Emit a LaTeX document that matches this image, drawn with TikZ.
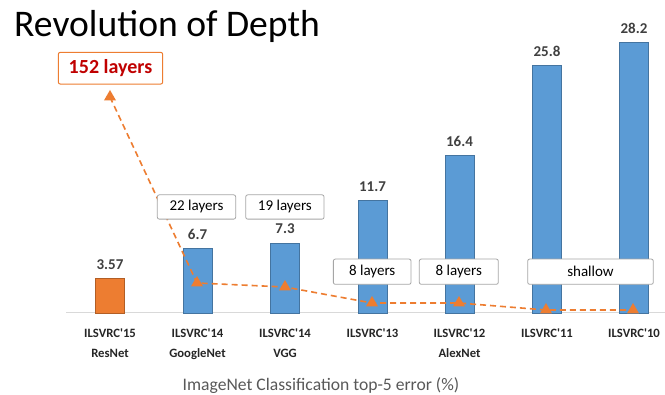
\documentclass[tikz,border=0pt]{standalone}
\usepackage{fontspec}
\setmainfont{Carlito}
\usetikzlibrary{shapes.geometric}
\definecolor{barblue}{HTML}{5B9BD5}
\definecolor{barorange}{HTML}{ED7D31}
\definecolor{valgray}{HTML}{404040}
\definecolor{boxgray}{HTML}{A6A6A6}
\definecolor{axisgray}{HTML}{D9D9D9}
\definecolor{capgray}{HTML}{595959}
\definecolor{darkred}{HTML}{C00000}
\newcommand{\apos}{\textquotesingle}
\begin{document}
\begin{tikzpicture}[x=1pt,y=-1pt,
  bluebar/.style={fill=barblue, draw=barblue!75!black, line width=0.5pt},
  orangebar/.style={fill=barorange, draw=barorange!75!black, line width=0.5pt},
  val/.style={font=\bfseries\fontsize{15}{18}\selectfont, text=valgray, inner sep=0pt, anchor=base},
  cat/.style={font=\bfseries\fontsize{12.7}{20}\selectfont, text=black!85, align=center, inner sep=0pt, anchor=north},
  lbox/.style={draw=boxgray, fill=white, rounded corners=2pt, font=\fontsize{15}{18}\selectfont, inner sep=0pt, line width=0.8pt},
  tmark/.style={regular polygon, regular polygon sides=3, fill=barorange, minimum size=14pt, inner sep=0pt},
  dline/.style={draw=barorange, line width=1.6pt, dash pattern=on 6pt off 4pt}
]
\useasboundingbox (0,0) rectangle (665,395);
\fill[white] (0,0) rectangle (665,395);

% title
\node[anchor=base west, inner sep=0pt, font=\fontsize{37.6}{40}\selectfont] (title) at (14,37) {Revolution of Depth};

% axis
\draw[axisgray, line width=1pt] (66,313) -- (665,313);

% bars
\def\base{313}
\def\sc{9.6}
\draw[orangebar] (110-14.3,\base) rectangle (110+14.3,{\base-3.57*\sc});
\foreach \cx/\v in {197.5/6.7, 285/7.3, 372.5/11.7, 459.5/16.4, 547/25.8, 634/28.2}{
  \draw[bluebar] (\cx-14.3,\base) rectangle (\cx+14.3,{\base-\v*\sc});
}

% value labels
\node[val] (v1) at (110,{\base-3.57*\sc-9}) {3.57};
\node[val] (v2) at (197.5,{\base-6.7*\sc-9}) {6.7};
\node[val] (v3) at (285,{\base-7.3*\sc-9}) {7.3};
\node[val] (v4) at (372.5,{\base-11.7*\sc-9}) {11.7};
\node[val] (v5) at (459.5,{\base-16.4*\sc-9}) {16.4};
\node[val] (v6) at (547,{\base-25.8*\sc-9}) {25.8};
\node[val] (v7) at (634,{\base-28.2*\sc-9}) {28.2};

% category labels
\node[cat] (c1) at (110,329) {ILSVRC\apos15\\ResNet};
\node[cat] (c2) at (197.5,329) {ILSVRC\apos14\\GoogleNet};
\node[cat] (c3) at (285,329) {ILSVRC\apos14\\VGG};
\node[cat] (c4) at (372.5,329) {ILSVRC\apos13};
\node[cat] (c5) at (459.5,329) {ILSVRC\apos12\\AlexNet};
\node[cat] (c6) at (547,329) {ILSVRC\apos11};
\node[cat] (c7) at (634,329) {ILSVRC\apos10};

% caption
\node[anchor=base, inner sep=0pt, font=\fontsize{17.6}{20}\selectfont, text=capgray] (cap) at (321,391) {ImageNet Classification top-5 error (\%)};

% layer-depth line
\coordinate (p1) at (110,97);
\coordinate (p2) at (197,283);
\coordinate (p3) at (285,287);
\coordinate (p4) at (372,303);
\coordinate (p5) at (459,303);
\coordinate (p6) at (546,310);
\coordinate (p7) at (633,310);
\draw[dline] (p1) -- (p2) -- (p3) -- (p4) -- (p5) -- (p6) -- (p7);
\foreach \i in {1,...,7}{ \node[tmark] (m\i) at (p\i) {}; }

% layer boxes
\node[lbox, minimum width=78.4pt, minimum height=24.3pt] (b2) at (196.5,207) {22 layers};
\node[lbox, minimum width=78.3pt, minimum height=24.3pt] (b3) at (284.9,207) {19 layers};
\node[lbox, minimum width=77.7pt, minimum height=25.3pt] (b4) at (372.2,271.7) {8 layers};
\node[lbox, minimum width=79pt, minimum height=25.3pt] (b5) at (458.8,271.7) {8 layers};
\node[lbox, minimum width=125.6pt, minimum height=25.3pt] (b6) at (590.5,271.7) {shallow};
\node[draw=barorange, fill=white, rounded corners=2pt, line width=1pt, inner sep=0pt,
      minimum width=104.4pt, minimum height=31.7pt, text=darkred,
      font=\bfseries\fontsize{20}{22}\selectfont] (b1) at (110.5,68.2) {152 layers};
\end{tikzpicture}
\end{document}
